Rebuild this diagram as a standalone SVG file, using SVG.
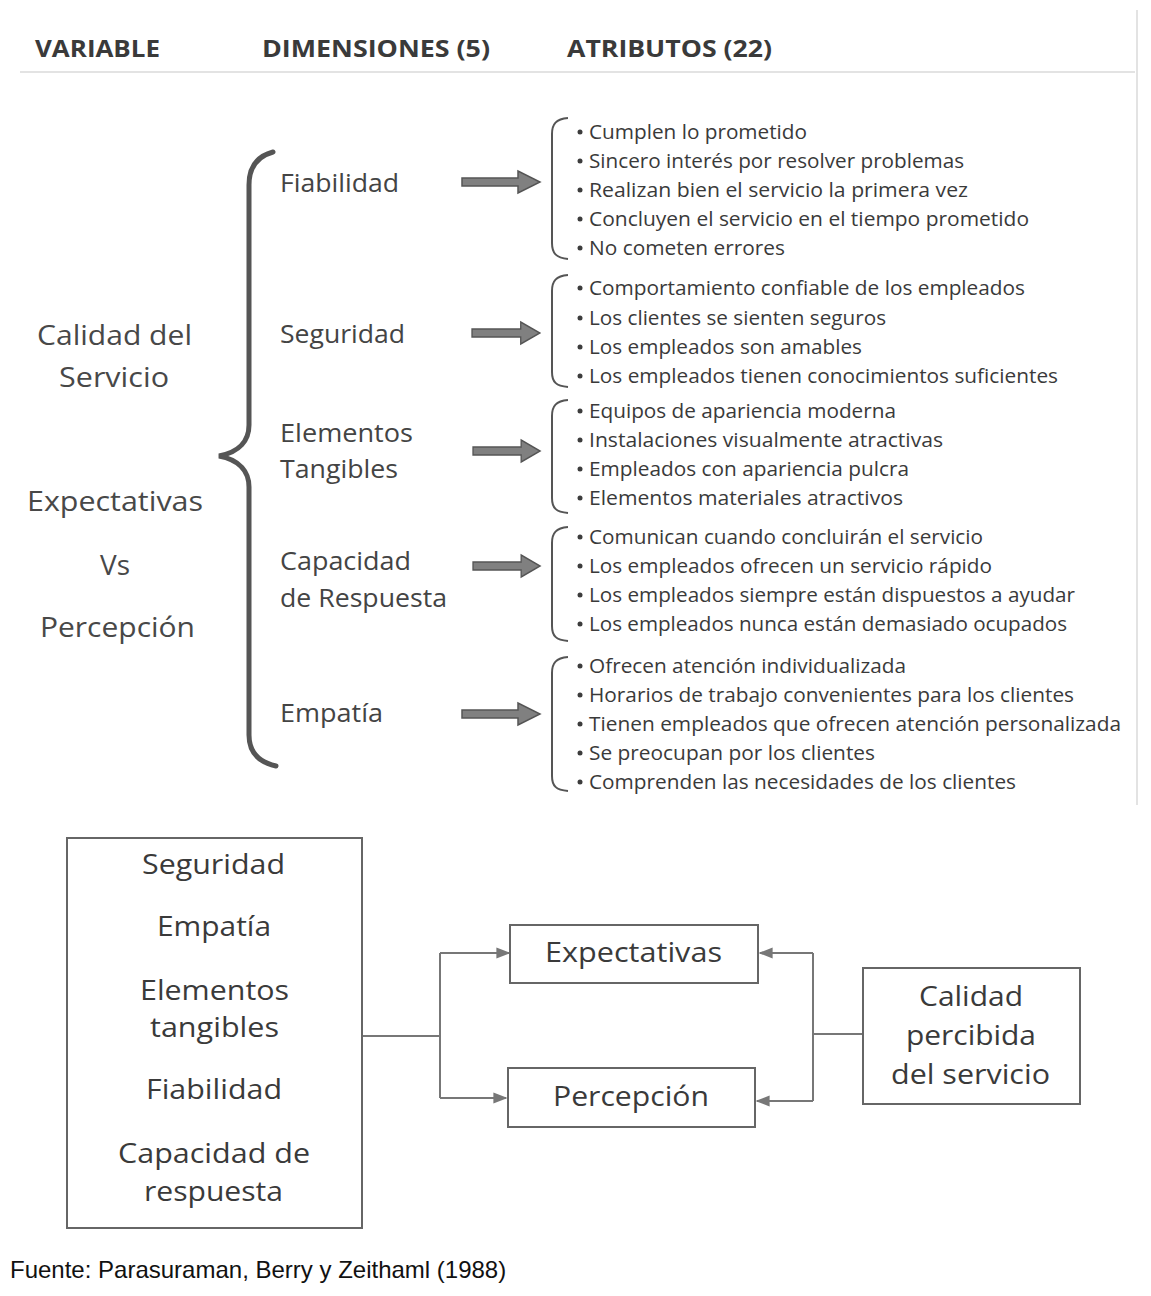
<svg xmlns="http://www.w3.org/2000/svg" width="1151" height="1296" viewBox="0 0 1151 1296">
<defs>
<style>
.hd{font-family:"Open Sans","Liberation Sans",sans-serif;font-weight:bold;font-size:24px;fill:#3a3a3a}
.var{font-family:"Open Sans","Liberation Sans",sans-serif;font-size:28px;fill:#484848}
.dim{font-family:"Open Sans","Liberation Sans",sans-serif;font-size:26px;fill:#444}
.at{font-family:"Open Sans","Liberation Sans",sans-serif;font-size:20px;fill:#3a3a3a}
.bul{fill:#3c3c3c}
.br{fill:none;stroke:#555;stroke-width:2}
.bigbr{fill:none;stroke:#555;stroke-width:5;stroke-linecap:round}
.barr{fill:#808080;stroke:#555;stroke-width:1.5}
.box{fill:#fff;stroke:#666;stroke-width:2}
.bt{font-family:"Open Sans","Liberation Sans",sans-serif;font-size:27px;fill:#3a3a3a}
.cn{fill:none;stroke:#777;stroke-width:2}
.ft{font-family:"Liberation Sans",Arial,sans-serif;font-size:24px;fill:#111}
</style>
<marker id="ah" viewBox="0 0 10 10" refX="9" refY="5" markerWidth="7" markerHeight="7" orient="auto">
<path d="M0,1 L10,5 L0,9 Z" fill="#777"/>
</marker>
<path id="blk" d="M0,-4 L56,-4 L56,-11 L78,0 L56,11 L56,4 L0,4 Z"/>
</defs>
<rect width="1151" height="1296" fill="#fff"/>

<!-- header -->
<g id="header">
<line x1="20" y1="72" x2="1135" y2="72" stroke="#e3e3e3" stroke-width="2"/>
<line x1="1137" y1="10" x2="1137" y2="805" stroke="#e3e3e3" stroke-width="2"/>
<text class="hd" x="35" y="57" textLength="125" lengthAdjust="spacingAndGlyphs">VARIABLE</text>
<text class="hd" x="262" y="57" textLength="228" lengthAdjust="spacingAndGlyphs">DIMENSIONES (5)</text>
<text class="hd" x="567" y="57" textLength="205" lengthAdjust="spacingAndGlyphs">ATRIBUTOS (22)</text>
</g>

<!-- variable -->
<g id="variable">
<text class="var" x="37" y="345" textLength="155" lengthAdjust="spacingAndGlyphs">Calidad del</text>
<text class="var" x="59" y="387" textLength="110" lengthAdjust="spacingAndGlyphs">Servicio</text>
<text class="var" x="27" y="511" textLength="176" lengthAdjust="spacingAndGlyphs">Expectativas</text>
<text class="var" x="100" y="575" textLength="30" lengthAdjust="spacingAndGlyphs">Vs</text>
<text class="var" x="40" y="637" textLength="155" lengthAdjust="spacingAndGlyphs">Percepción</text>
</g>

<g id="big-brace">
<path class="bigbr" d="M273,152 C258,156 249,166 249,185 L249,425 C249,440 240,452 219,456 C240,460 249,472 249,487 L249,735 C249,752 258,762 276,766"/>
</g>

<!-- dimensions -->
<g id="dim-fiabilidad"><text class="dim" x="280" y="192" textLength="119" lengthAdjust="spacingAndGlyphs">Fiabilidad</text></g>
<g id="dim-seguridad"><text class="dim" x="280" y="343" textLength="125" lengthAdjust="spacingAndGlyphs">Seguridad</text></g>
<g id="dim-tangibles"><text class="dim" x="280" y="442" textLength="133" lengthAdjust="spacingAndGlyphs">Elementos</text><text class="dim" x="280" y="478" textLength="118" lengthAdjust="spacingAndGlyphs">Tangibles</text></g>
<g id="dim-respuesta"><text class="dim" x="280" y="570" textLength="131" lengthAdjust="spacingAndGlyphs">Capacidad</text><text class="dim" x="280" y="607" textLength="167" lengthAdjust="spacingAndGlyphs">de Respuesta</text></g>
<g id="dim-empatia"><text class="dim" x="280" y="722" textLength="103" lengthAdjust="spacingAndGlyphs">Empatía</text></g>

<g id="block-arrows">
<use href="#blk" class="barr" transform="translate(462,182)"/>
<use href="#blk" class="barr" transform="translate(472,333) scale(0.87,1)"/>
<use href="#blk" class="barr" transform="translate(473,451) scale(0.86,1)"/>
<use href="#blk" class="barr" transform="translate(473,566) scale(0.86,1)"/>
<use href="#blk" class="barr" transform="translate(462,714)"/>
</g>

<!-- attribute groups -->
<g id="attr-fiabilidad">
<path class="br" d="M568,118 C556,119 552,124 552,134 L552,243 C552,253 556,258 568,259"/>
<circle class="bul" cx="580" cy="132" r="2.5"/><text class="at" x="589" y="139" textLength="218" lengthAdjust="spacingAndGlyphs">Cumplen lo prometido</text>
<circle class="bul" cx="580" cy="161" r="2.5"/><text class="at" x="589" y="168" textLength="375" lengthAdjust="spacingAndGlyphs">Sincero interés por resolver problemas</text>
<circle class="bul" cx="580" cy="190" r="2.5"/><text class="at" x="589" y="197" textLength="379" lengthAdjust="spacingAndGlyphs">Realizan bien el servicio  la  primera vez</text>
<circle class="bul" cx="580" cy="219" r="2.5"/><text class="at" x="589" y="226" textLength="440" lengthAdjust="spacingAndGlyphs">Concluyen  el servicio en el tiempo prometido</text>
<circle class="bul" cx="580" cy="248" r="2.5"/><text class="at" x="589" y="255" textLength="196" lengthAdjust="spacingAndGlyphs">No cometen errores</text>
</g>

<g id="attr-seguridad">
<path class="br" d="M568,275 C556,276 552,281 552,291 L552,372 C552,382 556,386 568,387"/>
<circle class="bul" cx="580" cy="288" r="2.5"/><text class="at" x="589" y="295" textLength="436" lengthAdjust="spacingAndGlyphs">Comportamiento confiable de los empleados</text>
<circle class="bul" cx="580" cy="318" r="2.5"/><text class="at" x="589" y="325" textLength="297" lengthAdjust="spacingAndGlyphs">Los clientes se sienten seguros</text>
<circle class="bul" cx="580" cy="347" r="2.5"/><text class="at" x="589" y="354" textLength="273" lengthAdjust="spacingAndGlyphs">Los empleados son amables</text>
<circle class="bul" cx="580" cy="376" r="2.5"/><text class="at" x="589" y="383" textLength="469" lengthAdjust="spacingAndGlyphs">Los empleados tienen conocimientos suficientes</text>
</g>

<g id="attr-tangibles">
<path class="br" d="M568,400 C556,401 552,406 552,416 L552,498 C552,508 556,512 568,513"/>
<circle class="bul" cx="580" cy="411" r="2.5"/><text class="at" x="589" y="418" textLength="307" lengthAdjust="spacingAndGlyphs">Equipos de apariencia moderna</text>
<circle class="bul" cx="580" cy="440" r="2.5"/><text class="at" x="589" y="447" textLength="354" lengthAdjust="spacingAndGlyphs">Instalaciones visualmente atractivas</text>
<circle class="bul" cx="580" cy="469" r="2.5"/><text class="at" x="589" y="476" textLength="320" lengthAdjust="spacingAndGlyphs">Empleados con apariencia pulcra</text>
<circle class="bul" cx="580" cy="498" r="2.5"/><text class="at" x="589" y="505" textLength="314" lengthAdjust="spacingAndGlyphs">Elementos materiales atractivos</text>
</g>

<g id="attr-respuesta">
<path class="br" d="M568,527 C556,528 552,533 552,543 L552,626 C552,636 556,640 568,641"/>
<circle class="bul" cx="580" cy="537" r="2.5"/><text class="at" x="589" y="544" textLength="394" lengthAdjust="spacingAndGlyphs">Comunican cuando concluirán el servicio</text>
<circle class="bul" cx="580" cy="566" r="2.5"/><text class="at" x="589" y="573" textLength="403" lengthAdjust="spacingAndGlyphs">Los empleados ofrecen un servicio rápido</text>
<circle class="bul" cx="580" cy="595" r="2.5"/><text class="at" x="589" y="602" textLength="486" lengthAdjust="spacingAndGlyphs">Los empleados siempre están dispuestos  a ayudar</text>
<circle class="bul" cx="580" cy="624" r="2.5"/><text class="at" x="589" y="631" textLength="478" lengthAdjust="spacingAndGlyphs">Los empleados nunca están demasiado ocupados</text>
</g>

<g id="attr-empatia">
<path class="br" d="M568,657 C556,658 552,663 552,673 L552,776 C552,786 556,790 568,791"/>
<circle class="bul" cx="580" cy="666" r="2.5"/><text class="at" x="589" y="673" textLength="317" lengthAdjust="spacingAndGlyphs">Ofrecen atención individualizada</text>
<circle class="bul" cx="580" cy="695" r="2.5"/><text class="at" x="589" y="702" textLength="485" lengthAdjust="spacingAndGlyphs">Horarios de trabajo convenientes para los clientes</text>
<circle class="bul" cx="580" cy="724" r="2.5"/><text class="at" x="589" y="731" textLength="532" lengthAdjust="spacingAndGlyphs">Tienen empleados que ofrecen atención personalizada</text>
<circle class="bul" cx="580" cy="753" r="2.5"/><text class="at" x="589" y="760" textLength="286" lengthAdjust="spacingAndGlyphs">Se preocupan por los clientes</text>
<circle class="bul" cx="580" cy="782" r="2.5"/><text class="at" x="589" y="789" textLength="427" lengthAdjust="spacingAndGlyphs">Comprenden las necesidades de los clientes</text>
</g>

<!-- bottom diagram -->
<g id="connectors">
<path class="cn" d="M362,1036 L440,1036"/>
<path class="cn" d="M440,953 L440,1098"/>
<path class="cn" d="M440,953 L509,953" marker-end="url(#ah)"/>
<path class="cn" d="M440,1098 L506,1098" marker-end="url(#ah)"/>
<path class="cn" d="M863,1034 L813,1034"/>
<path class="cn" d="M813,953 L813,1101"/>
<path class="cn" d="M813,953 L760,953" marker-end="url(#ah)"/>
<path class="cn" d="M813,1101 L757,1101" marker-end="url(#ah)"/>
</g>

<g id="node-dimensiones">
<rect class="box" x="67" y="838" width="295" height="390"/>
<text class="bt" x="142" y="874" textLength="143" lengthAdjust="spacingAndGlyphs">Seguridad</text>
<text class="bt" x="157" y="936" textLength="114" lengthAdjust="spacingAndGlyphs">Empatía</text>
<text class="bt" x="140" y="1000" textLength="149" lengthAdjust="spacingAndGlyphs">Elementos</text>
<text class="bt" x="150" y="1037" textLength="129" lengthAdjust="spacingAndGlyphs">tangibles</text>
<text class="bt" x="146" y="1099" textLength="136" lengthAdjust="spacingAndGlyphs">Fiabilidad</text>
<text class="bt" x="118" y="1163" textLength="192" lengthAdjust="spacingAndGlyphs">Capacidad de</text>
<text class="bt" x="144" y="1201" textLength="139" lengthAdjust="spacingAndGlyphs">respuesta</text>
</g>

<g id="node-expectativas">
<rect class="box" x="510" y="925" width="248" height="58"/>
<text class="bt" x="545" y="962" textLength="177" lengthAdjust="spacingAndGlyphs">Expectativas</text>
</g>

<g id="node-percepcion">
<rect class="box" x="508" y="1068" width="247" height="59"/>
<text class="bt" x="553" y="1106" textLength="156" lengthAdjust="spacingAndGlyphs">Percepción</text>
</g>

<g id="node-calidad">
<rect class="box" x="863" y="968" width="217" height="136"/>
<text class="bt" x="919" y="1006" textLength="104" lengthAdjust="spacingAndGlyphs">Calidad</text>
<text class="bt" x="906" y="1045" textLength="130" lengthAdjust="spacingAndGlyphs">percibida</text>
<text class="bt" x="891" y="1084" textLength="159" lengthAdjust="spacingAndGlyphs">del servicio</text>
</g>

<text class="ft" x="10" y="1278">Fuente: Parasuraman, Berry y Zeithaml (1988)</text>
</svg>
